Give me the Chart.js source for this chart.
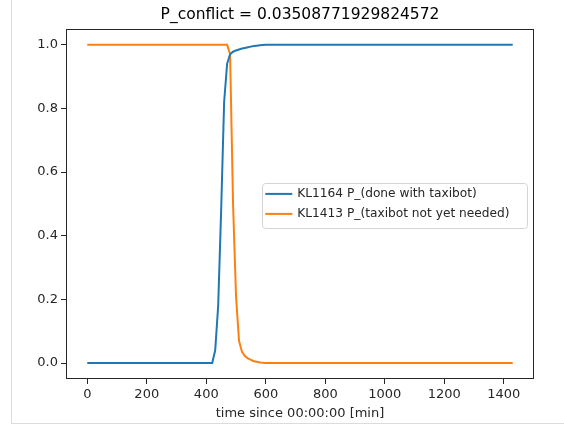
<!DOCTYPE html>
<html>
<head>
<meta charset="utf-8">
<title>P_conflict</title>
<script src="https://cdn.jsdelivr.net/npm/chart.js@4.4.0/dist/chart.umd.min.js"></script>
<style>
    html, body { margin: 0; padding: 0; background: #fff; }
    #wrap { position: relative; width: 564px; height: 432px; }
    #chart { display: block; }
    /* notebook output cell border */
    #cell {
        position: absolute; left: 11px; top: 0; width: 553px; height: 424px;
        box-sizing: border-box;
        border-left: 1px solid #dcdcdc; border-bottom: 1px solid #dcdcdc;
        pointer-events: none;
    }
</style>
</head>
<body>
<div id="wrap">
    <canvas id="chart" width="564" height="432"></canvas>
    <div id="cell"></div>
</div>
<script>
const titleText = "P_conflict = 0.03508771929824572";
const xLabel = "time since 00:00:00 [min]";
const seriesNames = ["KL1164 P_(done with taxibot)", "KL1413 P_(taxibot not yet needed)"];
const seriesColors = ["#1f77b4", "#ff7f0e"];

// minutes; flat stretches are joined by straight segments
const times = [0, 420, 430, 440, 450, 460, 470, 480, 490, 500, 510, 520, 530, 540, 550, 560, 570, 580, 590, 600, 1430];
const doneWithTaxibot = [0, 0, 0.04, 0.18, 0.48, 0.82, 0.94, 0.97, 0.978, 0.982, 0.985, 0.988, 0.99, 0.992, 0.994, 0.996, 0.997, 0.998, 0.999, 1, 1];
const notYetNeeded = [1, 1, 1, 1, 1, 1, 1, 0.97, 0.5, 0.21, 0.07, 0.035, 0.022, 0.015, 0.01, 0.006, 0.004, 0.002, 0.001, 0, 0];

const xTicks = [0, 200, 400, 600, 800, 1000, 1200, 1400];
const yTicks = [0, 0.2, 0.4, 0.6, 0.8, 1.0];

const FONT = "'DejaVu Sans', sans-serif";
const INK = "#262626";

function toPoints(values) {
    return times.map((t, i) => ({ x: t, y: values[i] }));
}

// spines on all four sides plus a matplotlib-like legend box
const frameAndLegend = {
    id: "frameAndLegend",
    afterDraw(chart) {
        const ctx = chart.ctx;
        const a = chart.chartArea;
        ctx.save();
        ctx.strokeStyle = INK;
        ctx.lineWidth = 1;
        const l = Math.round(a.left) + 0.5, t = Math.round(a.top) + 0.5;
        const r = Math.round(a.right) - 0.5, b = Math.round(a.bottom) - 0.5;
        ctx.strokeRect(l, t, r - l, b - t);

        // legend
        ctx.font = "12.2px " + FONT;
        const widths = chart.data.datasets.map(ds => ctx.measureText(ds.label).width);
        const handle = 27, gap = 5, padL = 3, padR = 18, rowH = 20;
        const w = padL + handle + gap + Math.max(...widths) + padR;
        const h = 44.5;
        const x0 = a.right - 6.5 - w;
        const y0 = (a.top + a.bottom) / 2 - 21;
        ctx.beginPath();
        ctx.roundRect(Math.round(x0) + 0.5, Math.round(y0) + 0.5, Math.round(w), Math.round(h), 3);
        ctx.fillStyle = "rgba(255,255,255,0.85)";
        ctx.fill();
        ctx.strokeStyle = "#d4d4d4";
        ctx.stroke();

        ctx.textBaseline = "middle";
        ctx.textAlign = "left";
        chart.data.datasets.forEach((ds, i) => {
            const y = y0 + 11 + i * rowH;
            ctx.beginPath();
            ctx.moveTo(x0 + padL, y);
            ctx.lineTo(x0 + padL + handle, y);
            ctx.strokeStyle = ds.borderColor;
            ctx.lineWidth = 2;
            ctx.stroke();
            ctx.fillStyle = INK;
            ctx.fillText(ds.label, x0 + padL + handle + gap, y);
        });
        ctx.restore();
    }
};

new Chart(document.getElementById("chart").getContext("2d"), {
    type: "line",
    data: {
        datasets: [
            { label: seriesNames[0], data: toPoints(doneWithTaxibot), borderColor: seriesColors[0] },
            { label: seriesNames[1], data: toPoints(notYetNeeded), borderColor: seriesColors[1] }
        ]
    },
    options: {
        responsive: false,
        animation: false,
        layout: { padding: { left: 10, right: 30, top: 0, bottom: 8 } },
        elements: {
            point: { radius: 0 },
            line: { borderWidth: 2, tension: 0, fill: false }
        },
        plugins: {
            legend: { display: false },
            tooltip: { enabled: false },
            title: {
                display: true,
                text: titleText,
                fullSize: false,
                color: "#000",
                font: { family: FONT, size: 15.5, weight: "normal", lineHeight: 1.2 },
                padding: { top: 6, bottom: 4.2 }
            }
        },
        scales: {
            x: {
                type: "linear",
                min: -71.5,
                max: 1501.5,
                afterBuildTicks: scale => { scale.ticks = xTicks.map(v => ({ value: v })); },
                afterFit: scale => { scale.height = 45; },
                grid: { drawOnChartArea: false, drawTicks: true, tickLength: 5, color: INK },
                border: { display: false },
                ticks: {
                    color: INK, font: { family: FONT, size: 13 }, padding: 3, maxRotation: 0,
                    callback: v => String(v)
                },
                title: {
                    display: true, text: xLabel, color: INK,
                    font: { family: FONT, size: 13 }, padding: { top: 0, bottom: 3 }
                }
            },
            y: {
                min: -0.05,
                max: 1.05,
                afterBuildTicks: scale => { scale.ticks = yTicks.map(v => ({ value: v })); },
                afterFit: scale => { scale.width = 56; },
                grid: { drawOnChartArea: false, drawTicks: true, tickLength: 5, color: INK },
                border: { display: false },
                ticks: {
                    color: INK, font: { family: FONT, size: 13 }, padding: 3,
                    callback: v => v.toFixed(1)
                }
            }
        }
    },
    plugins: [frameAndLegend]
});
</script>
</body>
</html>
